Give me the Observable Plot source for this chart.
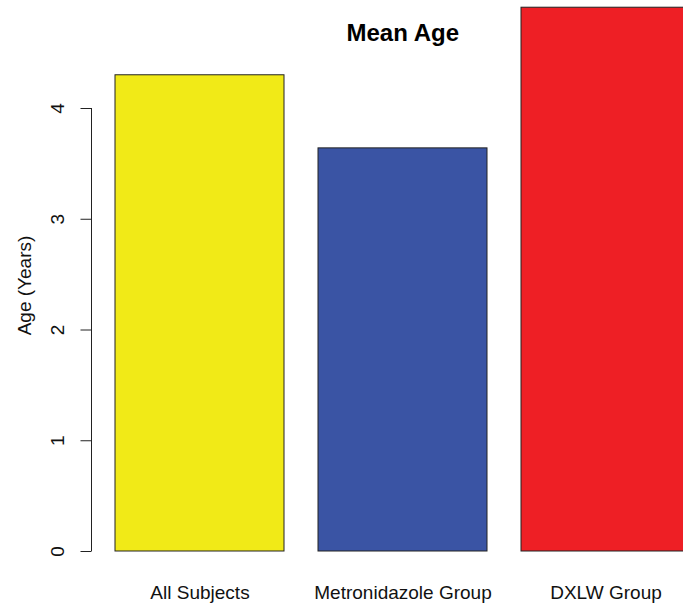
<!DOCTYPE html>
<html><head><meta charset="utf-8">
<script src="https://cdn.jsdelivr.net/npm/d3@7"></script>
<script src="https://cdn.jsdelivr.net/npm/@observablehq/plot@0.6"></script>
<style>
html,body{margin:0;padding:0;background:#fff;overflow:hidden;}
#chart{width:683px;height:605px;overflow:hidden;position:relative;}
</style></head><body><div id="chart"></div>
<script>
const groups = ["All Subjects", "Metronidazole Group", "DXLW Group"];
const meanAge = [4.30, 3.64, 4.91];
const barColors = ["#F1EA17", "#3A54A4", "#EE1F25"];
const yTicks = [0, 1, 2, 3, 4];
const title = "Mean Age";
const yLabel = "Age (Years)";

const data = groups.map((g, i) => ({group: g, age: meanAge[i]}));

// y-axis line drawn from the y scale (0 to the last tick)
const axisLine = (index, scales, values, dims, context) => {
  const line = d3.create("svg:line")
    .attr("x1", dims.marginLeft).attr("x2", dims.marginLeft)
    .attr("y1", scales.y(yTicks[0])).attr("y2", scales.y(yTicks[yTicks.length - 1]))
    .attr("stroke", "#222").attr("stroke-width", 1);
  return line.node();
};

const chart = Plot.plot({
  width: 683,
  height: 605,
  marginLeft: 91.5,
  marginRight: -30,
  marginTop: 7,
  marginBottom: 42,
  style: {fontFamily: "'Liberation Sans', Arial, sans-serif", fontSize: "19px", background: "white", color: "#111"},
  x: {type: "band", domain: groups, range: [91.5, 713], paddingInner: 0.1667, paddingOuter: 0.1133, label: null},
  y: {domain: [0, 5], range: [551, -2.75], label: null},
  color: {domain: groups, range: barColors},
  marks: [
    Plot.barY(data, {x: "group", y: "age", fill: "group", stroke: "#222", strokeWidth: 1}),
    Plot.axisY({ticks: yTicks, tickFormat: d3.format("d"), tickSize: 11, tickPadding: 17, tickRotate: -90, fontSize: 19, label: null, stroke: "#222"}),
    axisLine,
    Plot.axisX({tickSize: 0, tickPadding: 22, fontSize: 19, label: null}),
    Plot.text([yLabel], {frameAnchor: "left", textAnchor: "middle", rotate: -90, dx: -67.5, fontSize: 19, fill: "#111"}),
    Plot.text([title], {frameAnchor: "top", textAnchor: "middle", dy: 16, fontSize: 24, fontWeight: "bold", fill: "#000"})
  ]
});
document.getElementById("chart").appendChild(chart);
</script></body></html>
